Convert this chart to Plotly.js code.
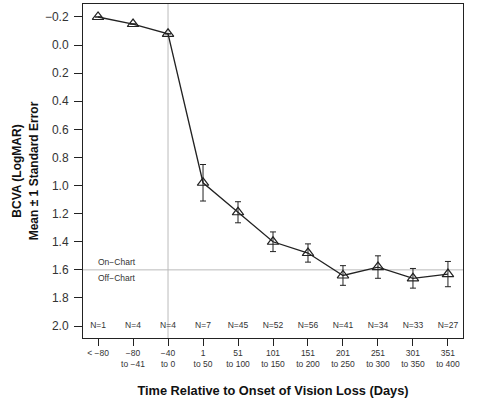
<!DOCTYPE html>
<html><head><meta charset="utf-8">
<script src="https://cdn.plot.ly/plotly-3.0.1.min.js"></script>
<style>body{margin:0;padding:0;background:#fff}#chart{width:480px;height:406px}</style>
</head><body><div id="chart"></div>
<script>
const categories = [1,2,3,4,5,6,7,8,9,10,11];
const xTickTop = ["< −80","−80","−40","1","51","101","151","201","251","301","351"];
const xTickBottom = ["","to −41","to 0","to 50","to 100","to 150","to 200","to 250","to 300","to 350","to 400"];
const bcva = [-0.20,-0.15,-0.08,0.98,1.19,1.40,1.48,1.64,1.58,1.66,1.63];
const se = [0,0,0,0.13,0.075,0.07,0.065,0.07,0.08,0.07,0.09];
const nLabels = ["N=1","N=4","N=4","N=7","N=45","N=52","N=56","N=41","N=34","N=33","N=27"];
const nLabelLevel = 2.0;
const yTickVals = [-0.2,0.0,0.2,0.4,0.6,0.8,1.0,1.2,1.4,1.6,1.8,2.0];
const yTickText = ["−0.2","0.0","0.2","0.4","0.6","0.8","1.0","1.2","1.4","1.6","1.8","2.0"];
const chartCutoff = 1.6;
const onsetCategory = 3;

const dark = "#222";
const FONT = "Arial, Liberation Sans, sans-serif";
const yRange = [2.085, -0.2925];
const xRange = [0.57, 11.43];

const traces = [
  {
    x: categories, y: bcva, type: "scatter", mode: "lines+markers",
    line: {color: dark, width: 1.3},
    marker: {symbol: "triangle-up-open", size: 10, color: dark, line: {color: dark, width: 1.2}},
    error_y: {type: "data", array: se, visible: true, color: dark, thickness: 1, width: 3},
    showlegend: false, hoverinfo: "none", cliponaxis: false
  },
  {
    x: categories, y: categories.map(() => nLabelLevel), type: "scatter", mode: "text",
    text: nLabels, textposition: "middle center",
    textfont: {family: FONT, size: 8.5, color: "#333"},
    showlegend: false, hoverinfo: "none"
  },
  {
    x: [categories[0]], y: [bcva[0]], xaxis: "x2", yaxis: "y2", type: "scatter", mode: "markers",
    marker: {opacity: 0, size: 1}, showlegend: false, hoverinfo: "none"
  }
];

const layout = {
  width: 480, height: 406,
  margin: {l: 83, r: 17, t: 4, b: 68},
  paper_bgcolor: "#fff", plot_bgcolor: "#fff",
  font: {family: FONT, color: "#333"},
  xaxis: {
    range: xRange, tickvals: categories, ticktext: xTickTop,
    showgrid: false, zeroline: false,
    showline: true, mirror: true, linecolor: dark, linewidth: 1,
    ticks: "outside", ticklen: 7, tickcolor: dark, tickwidth: 1,
    tickfont: {size: 8.5, color: "#333"}
  },
  xaxis2: {
    range: xRange, tickvals: categories, ticktext: xTickBottom,
    overlaying: "x", anchor: "y", side: "bottom",
    showgrid: false, zeroline: false, showline: false, ticks: "",
    ticklabelstandoff: 19,
    tickfont: {size: 8.5, color: "#333"},
    title: {text: "<b>Time Relative to Onset of Vision Loss (Days)</b>", font: {size: 12.8, color: "#111"}, standoff: 18}
  },
  yaxis: {
    range: yRange, tickvals: yTickVals, ticktext: yTickText,
    showgrid: false, zeroline: false,
    showline: true, mirror: true, linecolor: dark, linewidth: 1,
    ticks: "outside", ticklen: 8, tickcolor: dark, tickwidth: 1,
    ticklabelstandoff: 3,
    tickfont: {size: 12, color: "#333"},
    title: {text: "<b>Mean ± 1 Standard Error</b>", font: {size: 12, color: "#111"}, standoff: 3}
  },
  yaxis2: {
    range: yRange, overlaying: "y", anchor: "x", side: "left",
    showgrid: false, zeroline: false, showline: false, ticks: "", showticklabels: false,
    title: {text: "<b>BCVA (LogMAR)</b>", font: {size: 12, color: "#111"}, standoff: 57}
  },
  shapes: [
    {type: "line", xref: "x", yref: "paper", x0: onsetCategory, x1: onsetCategory, y0: 0, y1: 1, line: {color: "#bbb", width: 1}, layer: "below"},
    {type: "line", xref: "paper", yref: "y", x0: 0, x1: 1, y0: chartCutoff, y1: chartCutoff, line: {color: "#bbb", width: 1}, layer: "below"}
  ],
  annotations: [
    {xref: "paper", yref: "y", x: 0.035, y: chartCutoff, text: "On−Chart", showarrow: false, xanchor: "left", yanchor: "bottom", yshift: 1, font: {size: 8.5, color: "#333"}},
    {xref: "paper", yref: "y", x: 0.035, y: chartCutoff, text: "Off−Chart", showarrow: false, xanchor: "left", yanchor: "top", yshift: -1, font: {size: 8.5, color: "#333"}}
  ]
};
Plotly.newPlot("chart", traces, layout, {displayModeBar: false, staticPlot: true});
</script></body></html>
